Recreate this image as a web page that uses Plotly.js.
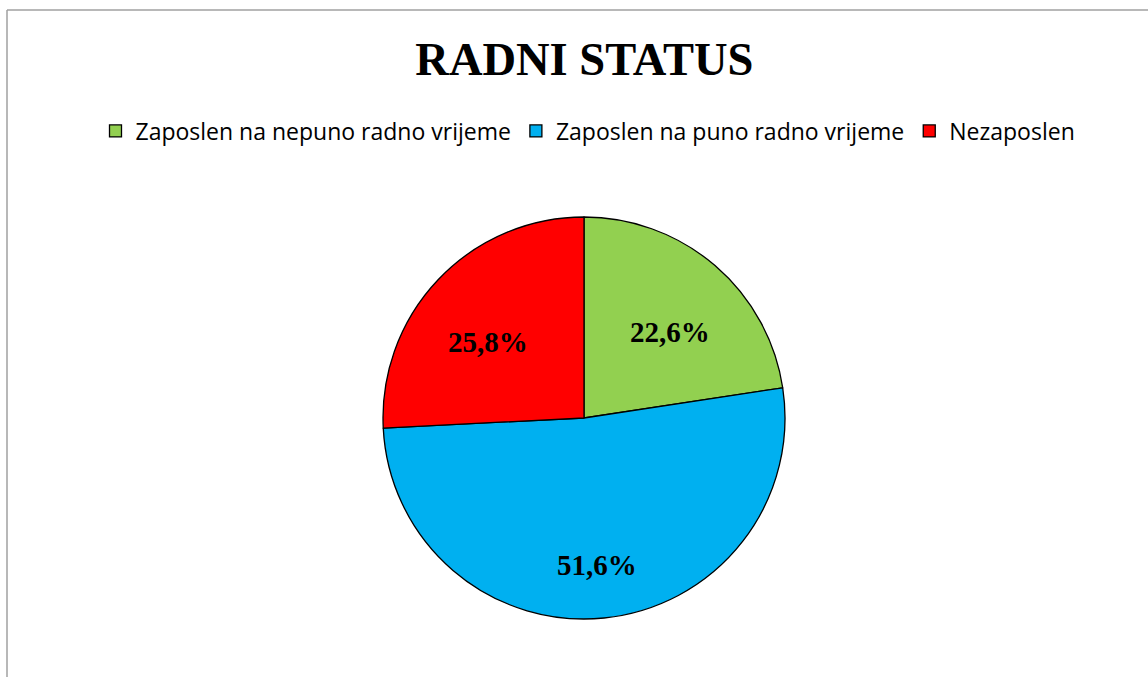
<!DOCTYPE html>
<html>
<head>
<meta charset="utf-8">
<script src="https://cdn.plot.ly/plotly-3.0.1.min.js"></script>
<style>html,body{margin:0;padding:0;background:#fff;}#chart{width:1148px;height:677px;}</style>
</head>
<body>
<div id="chart"></div>
<script>
const categories = ["Zaposlen na nepuno radno vrijeme", "Zaposlen na puno radno vrijeme", "Nezaposlen"];
const shares = [22.6, 51.6, 25.8];
const sliceColors = ["#92d050", "#00b0f0", "#ff0000"];
const chartTitle = "RADNI STATUS";

const W = 1148, H = 677;
const cx = 584, cy = 418, R = 201;

const trace = {
  type: "pie",
  labels: categories,
  values: shares,
  sort: false,
  direction: "clockwise",
  rotation: 0,
  marker: {colors: sliceColors, line: {color: "#000000", width: 1.3}},
  textposition: "none",
  hoverinfo: "label+percent",
  domain: {x: [(cx - R) / W, (cx + R) / W], y: [1 - (cy + R) / H, 1 - (cy - R) / H]}
};

// Percentage labels placed along each slice's mid-angle (computed from the data)
const total = shares.reduce((a, b) => a + b, 0);
const annotations = [];
let acc = 0;
shares.forEach((v, i) => {
  const mid = (acc + v / 2) / total * 2 * Math.PI;
  acc += v;
  const r = 0.66 * R;
  const px = cx + r * Math.sin(mid);
  const py = cy - r * Math.cos(mid) + 15;
  const pct = (v / total * 100).toFixed(1).replace(".", ",") + "%";
  annotations.push({
    text: "<b>" + pct + "</b>",
    x: px / W, y: 1 - py / H, xref: "paper", yref: "paper",
    xanchor: "center", yanchor: "middle", showarrow: false,
    font: {family: "Liberation Serif", size: 29, color: "#000000"}
  });
});

const layout = {
  width: W, height: H,
  margin: {l: 0, r: 0, t: 0, b: 0},
  paper_bgcolor: "#ffffff",
  separators: ",.",
  title: {
    text: "<b>" + chartTitle + "</b>",
    font: {family: "Liberation Serif", size: 46.5, color: "#000000"},
    x: 0.509, xanchor: "center", xref: "paper",
    y: 1 - 59 / H, yanchor: "middle", yref: "container"
  },
  showlegend: true,
  legend: {
    orientation: "h",
    x: 588 / W, xanchor: "center",
    y: 1 - 131 / H, yanchor: "middle",
    font: {family: "Open Sans", size: 23, color: "#000000"},
    itemclick: false, itemdoubleclick: false,
    traceorder: "normal"
  },
  annotations: annotations,
  shapes: [
    {type: "line", xref: "paper", yref: "paper", x0: 7 / W, x1: 7 / W, y0: 0, y1: 1 - 10 / H, line: {color: "#a0a0a0", width: 1.5}},
    {type: "line", xref: "paper", yref: "paper", x0: 7 / W, x1: 1, y0: 1 - 10 / H, y1: 1 - 10 / H, line: {color: "#a0a0a0", width: 1.5}}
  ]
};

Plotly.newPlot("chart", [trace], layout, {displayModeBar: false});
</script>
</body>
</html>
